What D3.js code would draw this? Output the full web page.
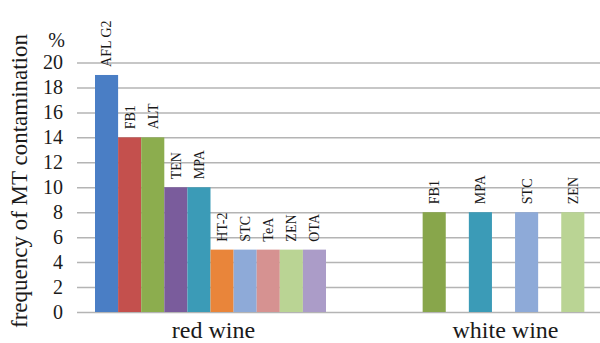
<!DOCTYPE html>
<html>
<head>
<meta charset="utf-8">
<script src="https://cdn.jsdelivr.net/npm/d3@7"></script>
<style>
  body { margin: 0; background: #fff; }
  svg text { font-family: 'Liberation Serif', 'DejaVu Serif', serif; fill: #1a1a1a; }
</style>
</head>
<body>
<div id="chart"></div>
<script>
/*******  Data ******/
const categories = ["red wine", "white wine"];

// red wine bars (left to right)
const redLabels = ["AFL G2", "FB1", "ALT", "TEN", "MPA", "HT-2", "STC", "TeA", "ZEN", "OTA"];
const redValues = [19, 14, 14, 10, 10, 5, 5, 5, 5, 5];

// white wine bars, empty slots between them
const whiteLabels = ["FB1", "", "MPA", "", "STC", "", "ZEN"];
const whiteValues = [8, null, 8, null, 8, null, 8];

const yTicks = [0, 2, 4, 6, 8, 10, 12, 14, 16, 18, 20];

/*******  Styles ******/
const serif = "'Liberation Serif', 'DejaVu Serif', serif";
const redColors = ["#4a7ec5", "#c4504d", "#8cad4e", "#7a5c9c", "#3b9bb7",
                   "#e9853a", "#8eaad8", "#d69291", "#bad494", "#ab9cc8"];
const whiteColors = ["#88a64b", null, "#3b9bb7", null, "#8eaad8", null, "#bad494"];

// Define area for svg
const svgW = 600;
const svgH = 343;
const plot = { left: 77, top: 62.5, bottom: 312, bandLeft: 64, bandRight: 650 };
const barW = 23.1;

const svg = d3.select("#chart").append("svg")
  .attr("width", svgW)
  .attr("height", svgH)
  .attr("font-family", serif);

// Scales
const y = d3.scaleLinear()
  .domain([0, 20])
  .range([plot.bottom, plot.top]);

const x = d3.scaleBand()
  .domain(categories)
  .range([plot.bandLeft, plot.bandRight])
  .padding(0);

// Gridlines + tick labels
const yAxis = svg.append("g")
  .attr("transform", `translate(${plot.left},0)`)
  .call(d3.axisLeft(y).tickValues(yTicks).tickSize(-(svgW - plot.left)).tickPadding(14))
  .attr("font-family", serif)
  .attr("font-size", 20);
yAxis.select(".domain").remove();
yAxis.selectAll("line")
  .attr("stroke", "#b4b4b4")
  .attr("stroke-width", 1.5);
yAxis.selectAll("text")
  .attr("fill", "#1a1a1a");

// Bars for one category
function drawCluster(cat, labels, values, colors) {
  const n = values.length;
  const center = x(cat) + x.bandwidth() / 2;
  const inner = d3.scaleBand()
    .domain(d3.range(n))
    .range([center - n * barW / 2, center + n * barW / 2])
    .padding(0);

  const items = values.map((v, i) => ({ v: v, label: labels[i], color: colors[i], i: i }))
    .filter(d => d.v !== null);

  const g = svg.append("g");
  g.selectAll("rect")
    .data(items)
    .enter()
    .append("rect")
    .attr("x", d => inner(d.i))
    .attr("width", inner.bandwidth())
    .attr("y", d => y(d.v))
    .attr("height", d => y(0) - y(d.v))
    .attr("fill", d => d.color);

  g.selectAll("text")
    .data(items)
    .enter()
    .append("text")
    .attr("transform", d => `translate(${inner(d.i) + inner.bandwidth() / 2},${y(d.v) - 8}) rotate(-90)`)
    .attr("dy", "0.35em")
    .attr("font-size", 14)
    .text(d => d.label);
}

drawCluster("red wine", redLabels, redValues, redColors);
drawCluster("white wine", whiteLabels, whiteValues, whiteColors);

// Category labels
svg.append("g")
  .selectAll("text")
  .data(categories)
  .enter()
  .append("text")
  .attr("x", (d, i) => x(d) + x.bandwidth() / 2 + (i === 0 ? 3 : 2))
  .attr("y", 338)
  .attr("text-anchor", "middle")
  .attr("font-size", 24)
  .text(d => d);

// Unit and axis title
svg.append("text")
  .attr("x", 65)
  .attr("y", 47)
  .attr("text-anchor", "end")
  .attr("font-size", 20)
  .text("%");

svg.append("text")
  .attr("transform", "translate(27,181) rotate(-90)")
  .attr("text-anchor", "middle")
  .attr("font-size", 23)
  .text("frequency of MT contamination");
</script>
</body>
</html>
